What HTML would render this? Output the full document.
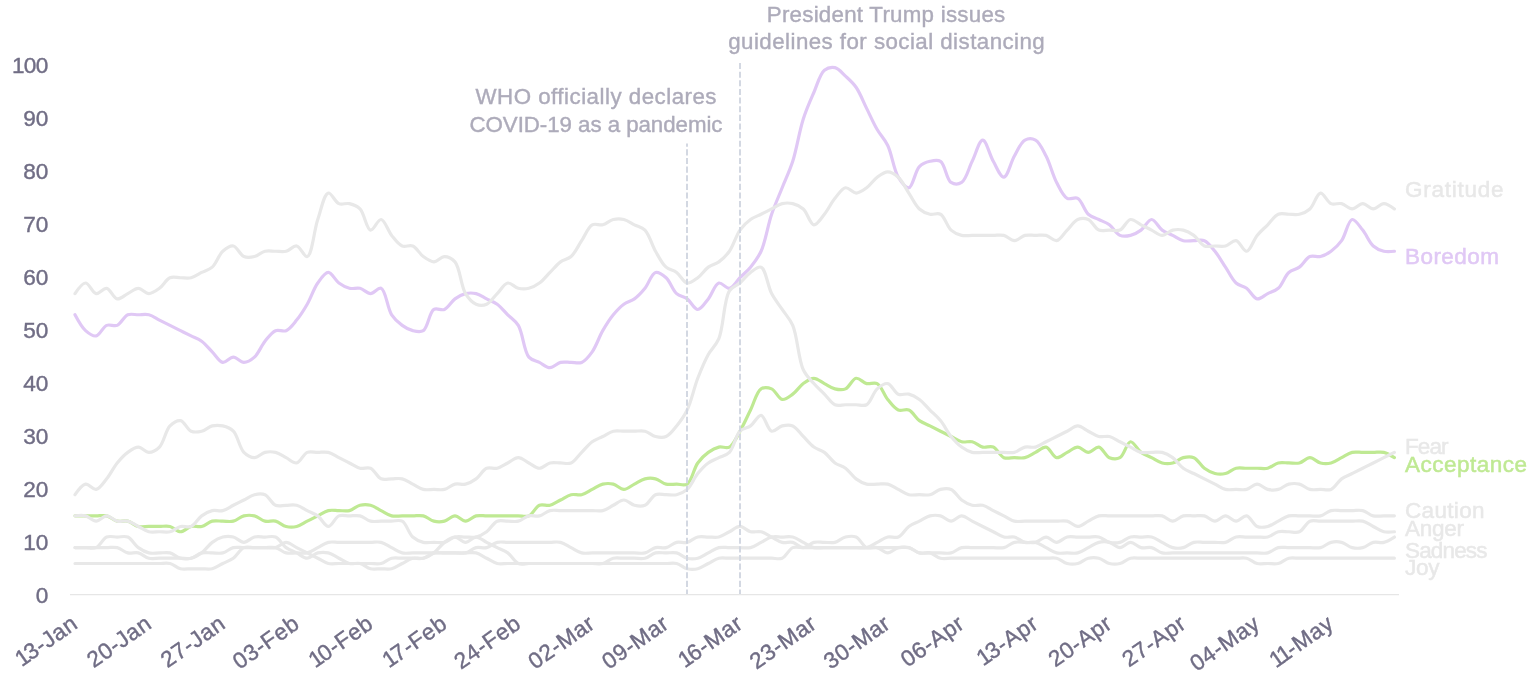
<!DOCTYPE html>
<html lang="en"><head><meta charset="utf-8"><title>Emotions chart</title>
<style>html,body{margin:0;padding:0;background:#fff}body{width:1536px;height:685px;overflow:hidden}svg{display:block;will-change:transform}text{font-family:"Liberation Sans",Arial,Helvetica,sans-serif}</style></head><body>
<svg width="1536" height="685" viewBox="0 0 1536 685">
<rect width="1536" height="685" fill="#ffffff"/>
<line x1="70" y1="594.6" x2="1399" y2="594.6" stroke="#e6e6e6" stroke-width="1.2"/>
<text x="48.3" y="603.3" text-anchor="end" font-size="22.6" fill="#706d85" stroke="#706d85" stroke-width="0.4" textLength="12.9" lengthAdjust="spacing">0</text>
<text x="48.3" y="550.3" text-anchor="end" font-size="22.6" fill="#706d85" stroke="#706d85" stroke-width="0.4" textLength="25.0" lengthAdjust="spacing">10</text>
<text x="48.3" y="497.3" text-anchor="end" font-size="22.6" fill="#706d85" stroke="#706d85" stroke-width="0.4" textLength="25.0" lengthAdjust="spacing">20</text>
<text x="48.3" y="444.3" text-anchor="end" font-size="22.6" fill="#706d85" stroke="#706d85" stroke-width="0.4" textLength="25.0" lengthAdjust="spacing">30</text>
<text x="48.3" y="391.3" text-anchor="end" font-size="22.6" fill="#706d85" stroke="#706d85" stroke-width="0.4" textLength="25.0" lengthAdjust="spacing">40</text>
<text x="48.3" y="338.3" text-anchor="end" font-size="22.6" fill="#706d85" stroke="#706d85" stroke-width="0.4" textLength="25.0" lengthAdjust="spacing">50</text>
<text x="48.3" y="285.3" text-anchor="end" font-size="22.6" fill="#706d85" stroke="#706d85" stroke-width="0.4" textLength="25.0" lengthAdjust="spacing">60</text>
<text x="48.3" y="232.3" text-anchor="end" font-size="22.6" fill="#706d85" stroke="#706d85" stroke-width="0.4" textLength="25.0" lengthAdjust="spacing">70</text>
<text x="48.3" y="179.3" text-anchor="end" font-size="22.6" fill="#706d85" stroke="#706d85" stroke-width="0.4" textLength="25.0" lengthAdjust="spacing">80</text>
<text x="48.3" y="126.3" text-anchor="end" font-size="22.6" fill="#706d85" stroke="#706d85" stroke-width="0.4" textLength="25.0" lengthAdjust="spacing">90</text>
<text x="48.3" y="73.3" text-anchor="end" font-size="22.6" fill="#706d85" stroke="#706d85" stroke-width="0.4" textLength="36.4" lengthAdjust="spacing">100</text>
<text transform="translate(79.3,626.8) rotate(-35)" text-anchor="end" font-size="22.6" fill="#706d85" stroke="#706d85" stroke-width="0.4" letter-spacing="0.6" dx="0 -2.4 0 0 0 0">13-Jan</text>
<text transform="translate(153.2,626.8) rotate(-35)" text-anchor="end" font-size="22.6" fill="#706d85" stroke="#706d85" stroke-width="0.4" letter-spacing="0.6" dx="0 0 0 0 0 0">20-Jan</text>
<text transform="translate(227.1,626.8) rotate(-35)" text-anchor="end" font-size="22.6" fill="#706d85" stroke="#706d85" stroke-width="0.4" letter-spacing="0.6" dx="0 0 0 0 0 0">27-Jan</text>
<text transform="translate(301.0,626.8) rotate(-35)" text-anchor="end" font-size="22.6" fill="#706d85" stroke="#706d85" stroke-width="0.4" letter-spacing="0.6" dx="0 0 0 0 0 0">03-Feb</text>
<text transform="translate(374.8,626.8) rotate(-35)" text-anchor="end" font-size="22.6" fill="#706d85" stroke="#706d85" stroke-width="0.4" letter-spacing="0.6" dx="0 -2.4 0 0 0 0">10-Feb</text>
<text transform="translate(448.7,626.8) rotate(-35)" text-anchor="end" font-size="22.6" fill="#706d85" stroke="#706d85" stroke-width="0.4" letter-spacing="0.6" dx="0 -2.4 0 0 0 0">17-Feb</text>
<text transform="translate(522.6,626.8) rotate(-35)" text-anchor="end" font-size="22.6" fill="#706d85" stroke="#706d85" stroke-width="0.4" letter-spacing="0.6" dx="0 0 0 0 0 0">24-Feb</text>
<text transform="translate(596.5,626.8) rotate(-35)" text-anchor="end" font-size="22.6" fill="#706d85" stroke="#706d85" stroke-width="0.4" letter-spacing="0.6" dx="0 0 0 0 0 0">02-Mar</text>
<text transform="translate(670.4,626.8) rotate(-35)" text-anchor="end" font-size="22.6" fill="#706d85" stroke="#706d85" stroke-width="0.4" letter-spacing="0.6" dx="0 0 0 0 0 0">09-Mar</text>
<text transform="translate(744.3,626.8) rotate(-35)" text-anchor="end" font-size="22.6" fill="#706d85" stroke="#706d85" stroke-width="0.4" letter-spacing="0.6" dx="0 -2.4 0 0 0 0">16-Mar</text>
<text transform="translate(818.1,626.8) rotate(-35)" text-anchor="end" font-size="22.6" fill="#706d85" stroke="#706d85" stroke-width="0.4" letter-spacing="0.6" dx="0 0 0 0 0 0">23-Mar</text>
<text transform="translate(892.0,626.8) rotate(-35)" text-anchor="end" font-size="22.6" fill="#706d85" stroke="#706d85" stroke-width="0.4" letter-spacing="0.6" dx="0 0 0 0 0 0">30-Mar</text>
<text transform="translate(965.9,626.8) rotate(-35)" text-anchor="end" font-size="22.6" fill="#706d85" stroke="#706d85" stroke-width="0.4" letter-spacing="0.6" dx="0 0 0 0 0 0">06-Apr</text>
<text transform="translate(1039.8,626.8) rotate(-35)" text-anchor="end" font-size="22.6" fill="#706d85" stroke="#706d85" stroke-width="0.4" letter-spacing="0.6" dx="0 -2.4 0 0 0 0">13-Apr</text>
<text transform="translate(1113.7,626.8) rotate(-35)" text-anchor="end" font-size="22.6" fill="#706d85" stroke="#706d85" stroke-width="0.4" letter-spacing="0.6" dx="0 0 0 0 0 0">20-Apr</text>
<text transform="translate(1187.6,626.8) rotate(-35)" text-anchor="end" font-size="22.6" fill="#706d85" stroke="#706d85" stroke-width="0.4" letter-spacing="0.6" dx="0 0 0 0 0 0">27-Apr</text>
<text transform="translate(1261.5,626.8) rotate(-35)" text-anchor="end" font-size="22.6" fill="#706d85" stroke="#706d85" stroke-width="0.4" letter-spacing="0.6" dx="0 0 0 0 0 0">04-May</text>
<text transform="translate(1335.3,626.8) rotate(-35)" text-anchor="end" font-size="22.6" fill="#706d85" stroke="#706d85" stroke-width="0.4" letter-spacing="0.6" dx="0 -2.4 -2.4 0 0 0">11-May</text>
<path d="M75.00,314.77C75.00,314.77 81.50,327.07 85.56,330.65C88.74,333.47 92.78,336.48 96.11,335.94C99.86,335.33 102.78,326.97 106.66,325.36C109.93,324.00 113.96,326.71 117.22,325.36C121.10,323.75 123.89,316.38 127.78,314.77C131.04,313.42 134.81,314.77 138.33,314.77C141.85,314.77 145.46,313.96 148.88,314.77C152.51,315.63 155.92,318.30 159.44,320.07C162.96,321.83 166.48,323.59 170.00,325.36C173.51,327.12 177.03,328.89 180.55,330.65C184.07,332.41 187.59,334.18 191.10,335.94C194.62,337.71 198.33,338.82 201.66,341.23C205.41,343.94 208.70,348.29 212.22,351.82C215.73,355.35 219.02,361.79 222.77,362.40C226.10,362.94 229.81,357.11 233.32,357.11C236.84,357.11 240.36,362.40 243.88,362.40C247.40,362.40 251.25,359.93 254.44,357.11C258.49,353.53 261.23,345.83 264.99,341.23C268.32,337.16 271.66,332.26 275.54,330.65C278.81,329.30 282.84,332.00 286.10,330.65C289.98,329.04 293.33,324.14 296.65,320.07C300.41,315.47 303.86,309.98 307.21,304.19C310.94,297.75 313.74,288.62 317.76,283.02C320.96,278.57 324.80,272.44 328.32,272.44C331.84,272.44 335.12,280.31 338.88,283.02C342.21,285.43 345.81,287.46 349.43,288.31C352.86,289.12 356.56,287.50 359.99,288.31C363.61,289.17 367.02,293.61 370.54,293.61C374.06,293.61 378.07,287.16 381.09,288.31C385.80,290.10 387.36,308.24 391.65,314.77C394.76,319.50 398.45,322.65 402.20,325.36C405.54,327.77 409.14,329.79 412.76,330.65C416.19,331.46 420.26,332.54 423.31,330.65C427.88,327.82 429.30,312.31 433.87,309.48C436.92,307.59 441.16,310.84 444.43,309.48C448.31,307.87 451.23,301.61 454.98,298.90C458.31,296.49 461.91,294.46 465.53,293.61C468.96,292.80 472.66,292.80 476.09,293.61C479.71,294.46 483.13,297.13 486.64,298.90C490.16,300.66 493.87,301.78 497.20,304.19C500.95,306.90 504.24,311.25 507.75,314.77C511.27,318.30 515.26,320.41 518.31,325.36C522.87,332.76 523.84,351.30 528.87,357.11C531.85,360.56 535.90,360.64 539.42,362.40C542.94,364.17 546.46,367.69 549.97,367.69C553.49,367.69 556.91,363.26 560.53,362.40C563.96,361.59 567.57,362.40 571.09,362.40C574.60,362.40 578.38,363.76 581.64,362.40C585.52,360.79 589.00,356.27 592.19,351.82C596.22,346.22 599.02,337.09 602.75,330.65C606.10,324.86 609.55,319.37 613.30,314.77C616.63,310.70 620.11,306.90 623.86,304.19C627.19,301.78 631.08,301.31 634.41,298.90C638.17,296.19 641.64,292.39 644.97,288.31C648.73,283.72 651.47,273.51 655.52,272.44C658.71,271.59 662.89,274.91 666.08,277.73C670.13,281.31 672.58,290.02 676.63,293.61C679.82,296.43 683.86,296.49 687.19,298.90C690.94,301.61 694.23,309.48 697.75,309.48C701.26,309.48 704.97,302.97 708.30,298.90C712.06,294.30 714.80,284.10 718.86,283.02C722.04,282.18 726.08,288.86 729.41,288.31C733.16,287.70 736.45,281.26 739.97,277.73C743.48,274.20 747.19,271.22 750.52,267.15C754.28,262.55 757.99,257.96 761.07,251.27C765.46,241.75 767.80,225.45 771.63,214.23C774.92,204.57 778.67,196.59 782.18,187.77C785.70,178.95 789.52,171.28 792.74,161.31C796.72,148.96 799.31,131.31 803.29,118.97C806.51,109.00 810.19,100.89 813.85,92.51C817.25,84.72 819.82,74.04 824.40,70.28C827.45,67.79 831.61,66.91 834.96,67.64C838.69,68.45 842.10,72.96 845.51,76.10C849.15,79.45 852.86,82.63 856.07,87.22C860.06,92.91 863.11,101.33 866.62,108.39C870.14,115.44 873.45,123.11 877.18,129.55C880.53,135.34 884.59,138.98 887.74,145.43C891.90,153.98 893.73,169.78 898.29,177.18C901.34,182.13 905.65,188.28 908.85,187.77C912.87,187.11 915.03,170.98 919.40,166.60C922.49,163.50 926.33,162.16 929.95,161.31C933.38,160.50 937.46,159.42 940.51,161.31C945.08,164.13 946.50,179.65 951.06,182.47C954.12,184.36 958.57,184.36 961.62,182.47C966.19,179.65 968.66,168.36 972.17,161.31C975.69,154.25 979.21,140.14 982.73,140.14C986.25,140.14 989.56,154.86 993.28,161.31C996.63,167.09 1000.49,177.39 1003.84,177.18C1007.57,176.95 1010.67,162.46 1014.39,156.01C1017.74,150.23 1020.74,142.40 1024.95,140.14C1028.08,138.46 1032.37,138.46 1035.51,140.14C1039.72,142.40 1042.83,149.86 1046.06,156.01C1050.01,163.54 1052.67,174.95 1056.62,182.47C1059.85,188.63 1062.96,196.09 1067.17,198.35C1070.30,200.03 1074.59,196.67 1077.72,198.35C1081.94,200.61 1084.23,210.64 1088.28,214.23C1091.47,217.05 1095.32,217.75 1098.84,219.52C1102.35,221.28 1106.06,222.40 1109.39,224.81C1113.14,227.52 1116.06,233.78 1119.94,235.39C1123.21,236.75 1127.07,236.20 1130.50,235.39C1134.12,234.54 1137.72,232.51 1141.06,230.10C1144.81,227.39 1148.09,219.52 1151.61,219.52C1155.13,219.52 1158.41,227.39 1162.16,230.10C1165.50,232.51 1169.20,233.63 1172.72,235.39C1176.24,237.16 1179.65,239.83 1183.27,240.69C1186.70,241.50 1190.31,240.69 1193.83,240.69C1197.35,240.69 1201.12,239.33 1204.38,240.69C1208.27,242.30 1211.61,247.20 1214.94,251.27C1218.70,255.87 1221.98,261.85 1225.49,267.15C1229.01,272.44 1232.00,279.44 1236.05,283.02C1239.24,285.84 1243.27,285.90 1246.61,288.31C1250.36,291.02 1253.41,298.29 1257.16,298.90C1260.49,299.44 1264.20,295.37 1267.71,293.61C1271.23,291.84 1275.08,291.14 1278.27,288.31C1282.32,284.73 1284.77,276.02 1288.83,272.44C1292.01,269.62 1296.05,269.56 1299.38,267.15C1303.13,264.44 1306.05,258.17 1309.93,256.56C1313.20,255.21 1317.06,257.37 1320.49,256.56C1324.11,255.70 1327.71,253.68 1331.05,251.27C1334.80,248.56 1338.40,245.14 1341.60,240.69C1345.62,235.09 1348.13,220.17 1352.15,219.52C1355.35,219.00 1359.38,226.03 1362.71,230.10C1366.47,234.70 1369.21,242.39 1373.26,245.98C1376.45,248.80 1380.20,250.41 1383.82,251.27C1387.25,252.08 1394.38,251.27 1394.38,251.27" fill="none" stroke="#e0c8f5" stroke-width="3.2" stroke-linecap="round" stroke-linejoin="round"/>
<path d="M75.00,515.87C75.00,515.87 82.04,515.87 85.56,515.87C89.07,515.87 92.59,515.87 96.11,515.87C99.63,515.87 103.24,515.06 106.66,515.87C110.29,516.73 113.60,520.30 117.22,521.16C120.65,521.97 124.35,520.35 127.78,521.16C131.40,522.02 134.71,525.60 138.33,526.45C141.76,527.26 145.37,526.45 148.88,526.45C152.40,526.45 155.92,526.45 159.44,526.45C162.96,526.45 166.57,525.64 170.00,526.45C173.62,527.31 177.03,531.75 180.55,531.75C184.07,531.75 187.48,527.31 191.10,526.45C194.53,525.64 198.23,527.26 201.66,526.45C205.28,525.60 208.59,522.02 212.22,521.16C215.64,520.35 219.25,521.16 222.77,521.16C226.29,521.16 229.90,521.97 233.32,521.16C236.95,520.30 240.26,516.73 243.88,515.87C247.31,515.06 251.01,515.06 254.44,515.87C258.06,516.73 261.37,520.30 264.99,521.16C268.42,521.97 272.12,520.35 275.54,521.16C279.17,522.02 282.48,525.60 286.10,526.45C289.53,527.26 293.23,527.26 296.65,526.45C300.28,525.60 303.69,522.93 307.21,521.16C310.73,519.40 314.25,517.63 317.76,515.87C321.28,514.11 324.70,511.44 328.32,510.58C331.75,509.77 335.36,510.58 338.88,510.58C342.39,510.58 346.00,511.39 349.43,510.58C353.05,509.72 356.36,506.14 359.99,505.29C363.41,504.48 367.11,504.48 370.54,505.29C374.16,506.14 377.58,508.81 381.09,510.58C384.61,512.34 388.03,515.01 391.65,515.87C395.08,516.68 398.69,515.87 402.20,515.87C405.72,515.87 409.24,515.87 412.76,515.87C416.28,515.87 419.89,515.06 423.31,515.87C426.94,516.73 430.25,520.30 433.87,521.16C437.30,521.97 441.00,521.97 444.43,521.16C448.05,520.30 451.46,515.87 454.98,515.87C458.50,515.87 462.02,521.16 465.53,521.16C469.05,521.16 472.47,516.73 476.09,515.87C479.52,515.06 483.13,515.87 486.64,515.87C490.16,515.87 493.68,515.87 497.20,515.87C500.72,515.87 504.24,515.87 507.75,515.87C511.27,515.87 514.79,515.87 518.31,515.87C521.83,515.87 525.60,517.22 528.87,515.87C532.75,514.26 535.54,506.90 539.42,505.29C542.68,503.93 546.55,506.10 549.97,505.29C553.60,504.43 557.01,501.76 560.53,499.99C564.05,498.23 567.46,495.56 571.09,494.70C574.51,493.89 578.21,495.51 581.64,494.70C585.26,493.84 588.68,491.17 592.19,489.41C595.71,487.65 599.13,484.98 602.75,484.12C606.18,483.31 609.88,483.31 613.30,484.12C616.93,484.98 620.34,489.41 623.86,489.41C627.38,489.41 630.90,485.88 634.41,484.12C637.93,482.35 641.35,479.68 644.97,478.83C648.40,478.02 652.10,478.02 655.52,478.83C659.15,479.68 662.46,483.26 666.08,484.12C669.51,484.93 673.12,484.12 676.63,484.12C680.15,484.12 684.14,486.01 687.19,484.12C691.76,481.29 693.72,468.55 697.75,462.95C700.94,458.50 704.55,455.08 708.30,452.37C711.63,449.96 715.23,447.93 718.86,447.07C722.28,446.26 726.28,448.75 729.41,447.07C733.62,444.82 736.62,436.98 739.97,431.20C743.69,424.75 747.00,417.09 750.52,410.03C754.04,402.97 756.51,391.69 761.07,388.86C764.13,386.97 768.37,387.51 771.63,388.86C775.51,390.47 778.43,398.84 782.18,399.45C785.52,399.99 789.41,396.56 792.74,394.15C796.49,391.44 799.54,386.28 803.29,383.57C806.63,381.16 810.33,378.28 813.85,378.28C817.37,378.28 820.89,381.81 824.40,383.57C827.92,385.33 831.34,388.00 834.96,388.86C838.39,389.67 842.25,390.22 845.51,388.86C849.40,387.25 852.32,378.89 856.07,378.28C859.40,377.74 863.00,382.71 866.62,383.57C870.05,384.38 874.05,381.89 877.18,383.57C881.39,385.83 883.98,394.85 887.74,399.45C891.06,403.52 894.41,408.42 898.29,410.03C901.55,411.38 905.58,408.68 908.85,410.03C912.73,411.64 915.65,417.90 919.40,420.61C922.73,423.02 926.44,424.14 929.95,425.91C933.47,427.67 936.99,429.43 940.51,431.20C944.03,432.96 947.55,434.73 951.06,436.49C954.58,438.25 958.00,440.92 961.62,441.78C965.05,442.59 968.75,440.97 972.17,441.78C975.80,442.64 979.11,446.22 982.73,447.07C986.16,447.88 990.02,445.72 993.28,447.07C997.17,448.68 999.96,456.05 1003.84,457.66C1007.10,459.01 1010.88,457.66 1014.39,457.66C1017.91,457.66 1021.52,458.47 1024.95,457.66C1028.57,456.80 1031.99,454.13 1035.51,452.37C1039.02,450.60 1042.73,446.53 1046.06,447.07C1049.81,447.68 1052.86,457.05 1056.62,457.66C1059.95,458.20 1063.65,454.13 1067.17,452.37C1070.69,450.60 1074.21,447.07 1077.72,447.07C1081.24,447.07 1084.76,452.37 1088.28,452.37C1091.80,452.37 1095.50,446.53 1098.84,447.07C1102.59,447.68 1105.51,456.05 1109.39,457.66C1112.65,459.01 1116.81,459.34 1119.94,457.66C1124.16,455.40 1126.74,442.15 1130.50,441.78C1133.83,441.45 1137.30,449.66 1141.06,452.37C1144.39,454.78 1148.09,455.89 1151.61,457.66C1155.13,459.42 1158.54,462.09 1162.16,462.95C1165.59,463.76 1169.29,463.76 1172.72,462.95C1176.34,462.09 1179.65,458.52 1183.27,457.66C1186.70,456.85 1190.57,456.30 1193.83,457.66C1197.71,459.27 1200.63,465.53 1204.38,468.24C1207.72,470.65 1211.32,472.68 1214.94,473.53C1218.37,474.34 1222.07,474.34 1225.49,473.53C1229.12,472.68 1232.43,469.10 1236.05,468.24C1239.48,467.43 1243.09,468.24 1246.61,468.24C1250.12,468.24 1253.64,468.24 1257.16,468.24C1260.68,468.24 1264.29,469.05 1267.71,468.24C1271.34,467.38 1274.65,463.81 1278.27,462.95C1281.70,462.14 1285.31,462.95 1288.83,462.95C1292.34,462.95 1295.95,463.76 1299.38,462.95C1303.00,462.09 1306.42,457.66 1309.93,457.66C1313.45,457.66 1316.87,462.09 1320.49,462.95C1323.92,463.76 1327.62,463.76 1331.05,462.95C1334.67,462.09 1338.08,459.42 1341.60,457.66C1345.12,455.89 1348.53,453.22 1352.15,452.37C1355.58,451.56 1359.19,452.37 1362.71,452.37C1366.23,452.37 1369.75,452.37 1373.26,452.37C1376.78,452.37 1380.39,451.56 1383.82,452.37C1387.44,453.22 1394.38,457.66 1394.38,457.66" fill="none" stroke="#bfe993" stroke-width="3.2" stroke-linecap="round" stroke-linejoin="round"/>
<path d="M75.00,293.61C75.00,293.61 82.04,283.02 85.56,283.02C89.07,283.02 92.36,293.00 96.11,293.61C99.44,294.15 103.33,287.77 106.66,288.31C110.42,288.92 113.47,298.29 117.22,298.90C120.55,299.44 124.26,295.37 127.78,293.61C131.29,291.84 134.81,288.31 138.33,288.31C141.85,288.31 145.37,293.61 148.88,293.61C152.40,293.61 156.11,290.72 159.44,288.31C163.19,285.60 166.11,279.34 170.00,277.73C173.26,276.38 177.03,277.73 180.55,277.73C184.07,277.73 187.68,278.54 191.10,277.73C194.73,276.87 198.14,274.20 201.66,272.44C205.18,270.67 209.03,269.97 212.22,267.15C216.27,263.56 218.72,254.85 222.77,251.27C225.96,248.45 229.99,245.44 233.32,245.98C237.08,246.59 240.00,254.95 243.88,256.56C247.14,257.92 251.01,257.37 254.44,256.56C258.06,255.70 261.37,252.13 264.99,251.27C268.42,250.46 272.03,251.27 275.54,251.27C279.06,251.27 282.67,252.08 286.10,251.27C289.72,250.41 293.32,245.44 296.65,245.98C300.41,246.59 304.20,257.34 307.21,256.56C312.04,255.31 313.94,230.74 317.76,219.52C321.06,209.87 324.03,193.94 328.32,193.06C331.43,192.42 334.99,202.03 338.88,203.64C342.14,205.00 346.00,202.83 349.43,203.64C353.05,204.50 356.89,205.84 359.99,208.93C364.36,213.32 366.52,229.45 370.54,230.10C373.74,230.62 377.77,219.19 381.09,219.52C384.85,219.89 387.89,230.80 391.65,235.39C394.98,239.47 398.32,244.37 402.20,245.98C405.47,247.33 409.50,244.62 412.76,245.98C416.64,247.59 419.56,253.85 423.31,256.56C426.65,258.97 430.35,261.85 433.87,261.85C437.39,261.85 440.91,256.56 444.43,256.56C447.94,256.56 451.99,258.40 454.98,261.85C460.01,267.66 460.97,286.20 465.53,293.61C468.59,298.55 472.21,302.58 476.09,304.19C479.35,305.54 483.38,305.54 486.64,304.19C490.53,302.58 493.68,297.13 497.20,293.61C500.72,290.08 504.00,283.63 507.75,283.02C511.09,282.48 514.69,287.46 518.31,288.31C521.74,289.12 525.44,289.12 528.87,288.31C532.49,287.46 536.09,285.43 539.42,283.02C543.17,280.31 546.46,275.97 549.97,272.44C553.49,268.91 556.78,264.56 560.53,261.85C563.86,259.44 567.90,259.38 571.09,256.56C575.14,252.98 578.12,245.98 581.64,240.69C585.16,235.39 587.98,227.07 592.19,224.81C595.33,223.13 599.32,225.62 602.75,224.81C606.37,223.95 609.68,220.38 613.30,219.52C616.73,218.71 620.43,218.71 623.86,219.52C627.48,220.38 630.90,223.05 634.41,224.81C637.93,226.57 641.88,227.00 644.97,230.10C649.34,234.49 651.80,244.83 655.52,251.27C658.87,257.06 662.03,263.56 666.08,267.15C669.27,269.97 673.30,270.03 676.63,272.44C680.39,275.15 683.44,282.41 687.19,283.02C690.52,283.56 694.41,280.14 697.75,277.73C701.50,275.02 704.55,269.86 708.30,267.15C711.63,264.74 715.52,264.26 718.86,261.85C722.61,259.14 726.21,255.72 729.41,251.27C733.43,245.67 735.94,235.70 739.97,230.10C743.16,225.65 746.77,222.23 750.52,219.52C753.85,217.11 757.56,215.99 761.07,214.23C764.59,212.46 768.11,210.70 771.63,208.93C775.15,207.17 778.56,204.50 782.18,203.64C785.61,202.83 789.31,202.83 792.74,203.64C796.36,204.50 800.11,206.11 803.29,208.93C807.35,212.52 810.09,224.44 813.85,224.81C817.18,225.14 821.08,218.30 824.40,214.23C828.16,209.63 831.20,202.95 834.96,198.35C838.29,194.28 841.76,188.38 845.51,187.77C848.85,187.22 852.55,193.06 856.07,193.06C859.59,193.06 863.29,190.18 866.62,187.77C870.38,185.06 873.43,179.89 877.18,177.18C880.51,174.77 884.22,171.89 887.74,171.89C891.25,171.89 895.10,174.36 898.29,177.18C902.34,180.77 905.33,187.77 908.85,193.06C912.36,198.35 915.35,205.35 919.40,208.93C922.59,211.76 926.33,213.37 929.95,214.23C933.38,215.04 937.38,212.55 940.51,214.23C944.72,216.48 947.01,226.52 951.06,230.10C954.25,232.92 958.00,234.54 961.62,235.39C965.05,236.20 968.66,235.39 972.17,235.39C975.69,235.39 979.21,235.39 982.73,235.39C986.25,235.39 989.77,235.39 993.28,235.39C996.80,235.39 1000.41,234.58 1003.84,235.39C1007.46,236.25 1010.88,240.69 1014.39,240.69C1017.91,240.69 1021.33,236.25 1024.95,235.39C1028.38,234.58 1031.99,235.39 1035.51,235.39C1039.02,235.39 1042.63,234.58 1046.06,235.39C1049.68,236.25 1053.28,241.23 1056.62,240.69C1060.37,240.08 1063.65,233.63 1067.17,230.10C1070.69,226.57 1073.84,221.13 1077.72,219.52C1080.99,218.16 1085.02,218.16 1088.28,219.52C1092.16,221.13 1094.95,228.49 1098.84,230.10C1102.10,231.46 1105.87,230.10 1109.39,230.10C1112.91,230.10 1116.68,231.46 1119.94,230.10C1123.83,228.49 1126.75,220.13 1130.50,219.52C1133.83,218.98 1137.54,223.05 1141.06,224.81C1144.57,226.57 1148.09,228.34 1151.61,230.10C1155.13,231.87 1158.65,235.39 1162.16,235.39C1165.68,235.39 1169.10,230.96 1172.72,230.10C1176.15,229.29 1179.85,229.29 1183.27,230.10C1186.90,230.96 1190.50,232.98 1193.83,235.39C1197.58,238.10 1200.50,244.37 1204.38,245.98C1207.65,247.33 1211.42,245.98 1214.94,245.98C1218.46,245.98 1222.07,246.79 1225.49,245.98C1229.12,245.12 1232.72,240.14 1236.05,240.69C1239.80,241.30 1243.28,251.60 1246.61,251.27C1250.36,250.90 1253.40,239.99 1257.16,235.39C1260.49,231.32 1264.20,228.34 1267.71,224.81C1271.23,221.28 1274.39,215.84 1278.27,214.23C1281.53,212.87 1285.31,214.23 1288.83,214.23C1292.34,214.23 1295.95,215.04 1299.38,214.23C1303.00,213.37 1306.75,211.76 1309.93,208.93C1313.99,205.35 1316.73,193.43 1320.49,193.06C1323.82,192.73 1327.16,202.03 1331.05,203.64C1334.31,205.00 1338.17,202.83 1341.60,203.64C1345.22,204.50 1348.64,208.93 1352.15,208.93C1355.67,208.93 1359.19,203.64 1362.71,203.64C1366.23,203.64 1369.75,208.93 1373.26,208.93C1376.78,208.93 1380.30,203.64 1383.82,203.64C1387.34,203.64 1394.38,208.93 1394.38,208.93" fill="none" stroke="#e8e8e8" stroke-width="3.2" stroke-linecap="round" stroke-linejoin="round"/>
<path d="M75.00,494.70C75.00,494.70 81.80,484.73 85.56,484.12C88.89,483.58 92.78,489.95 96.11,489.41C99.86,488.80 103.34,482.90 106.66,478.83C110.42,474.23 113.46,467.55 117.22,462.95C120.55,458.88 124.02,455.08 127.78,452.37C131.11,449.96 134.81,447.07 138.33,447.07C141.85,447.07 145.37,452.37 148.88,452.37C152.40,452.37 156.35,450.17 159.44,447.07C163.81,442.69 165.62,430.29 170.00,425.91C173.09,422.81 177.22,420.07 180.55,420.61C184.30,421.22 187.22,429.59 191.10,431.20C194.37,432.55 198.23,432.01 201.66,431.20C205.28,430.34 208.59,426.76 212.22,425.91C215.64,425.10 219.34,425.10 222.77,425.91C226.39,426.76 230.23,428.10 233.32,431.20C237.70,435.58 239.51,447.98 243.88,452.37C246.97,455.46 250.92,457.66 254.44,457.66C257.95,457.66 261.37,453.22 264.99,452.37C268.42,451.56 272.12,451.56 275.54,452.37C279.17,453.22 282.58,455.89 286.10,457.66C289.62,459.42 293.32,463.49 296.65,462.95C300.41,462.34 303.33,453.98 307.21,452.37C310.47,451.01 314.25,452.37 317.76,452.37C321.28,452.37 324.89,451.56 328.32,452.37C331.94,453.22 335.36,455.89 338.88,457.66C342.39,459.42 345.91,461.19 349.43,462.95C352.95,464.71 356.36,467.38 359.99,468.24C363.41,469.05 367.28,466.89 370.54,468.24C374.42,469.85 377.21,477.22 381.09,478.83C384.36,480.18 388.13,478.83 391.65,478.83C395.17,478.83 398.78,478.02 402.20,478.83C405.83,479.68 409.24,482.35 412.76,484.12C416.28,485.88 419.69,488.55 423.31,489.41C426.74,490.22 430.35,489.41 433.87,489.41C437.39,489.41 441.00,490.22 444.43,489.41C448.05,488.55 451.36,484.98 454.98,484.12C458.41,483.31 462.11,484.93 465.53,484.12C469.16,483.26 472.76,481.24 476.09,478.83C479.84,476.12 482.76,469.85 486.64,468.24C489.91,466.89 493.77,469.05 497.20,468.24C500.82,467.38 504.24,464.71 507.75,462.95C511.27,461.19 514.79,457.66 518.31,457.66C521.83,457.66 525.35,461.19 528.87,462.95C532.38,464.71 535.90,468.24 539.42,468.24C542.94,468.24 546.35,463.81 549.97,462.95C553.40,462.14 557.01,462.95 560.53,462.95C564.05,462.95 567.82,464.30 571.09,462.95C574.97,461.34 578.12,455.89 581.64,452.37C585.16,448.84 588.44,444.49 592.19,441.78C595.53,439.37 599.23,438.25 602.75,436.49C606.27,434.73 609.68,432.06 613.30,431.20C616.73,430.39 620.34,431.20 623.86,431.20C627.38,431.20 630.90,431.20 634.41,431.20C637.93,431.20 641.54,430.39 644.97,431.20C648.59,432.06 651.90,435.63 655.52,436.49C658.95,437.30 662.82,437.84 666.08,436.49C669.96,434.88 673.31,429.98 676.63,425.91C680.39,421.31 684.04,416.48 687.19,410.03C691.36,401.48 693.98,388.02 697.75,378.28C701.07,369.68 704.46,361.46 708.30,354.46C711.58,348.48 715.84,345.66 718.86,338.59C723.67,327.27 723.76,299.74 729.41,290.96C732.35,286.39 736.55,285.99 739.97,283.02C743.60,279.86 746.77,275.15 750.52,272.44C753.85,270.03 758.05,266.00 761.07,267.15C765.78,268.93 767.68,286.08 771.63,293.61C774.86,299.76 778.67,304.19 782.18,309.48C785.70,314.77 789.71,318.39 792.74,325.36C797.43,336.15 798.42,359.56 803.29,369.81C806.30,376.13 810.19,379.39 813.85,383.57C817.25,387.45 820.89,390.63 824.40,394.15C827.92,397.68 831.08,403.13 834.96,404.74C838.22,406.09 842.00,404.74 845.51,404.74C849.03,404.74 852.55,404.74 856.07,404.74C859.59,404.74 863.49,406.42 866.62,404.74C870.84,402.48 873.13,392.45 877.18,388.86C880.37,386.04 884.40,383.03 887.74,383.57C891.49,384.18 894.41,392.54 898.29,394.15C901.55,395.51 905.42,393.34 908.85,394.15C912.47,395.01 916.07,397.04 919.40,399.45C923.15,402.16 926.44,406.50 929.95,410.03C933.47,413.56 937.18,416.54 940.51,420.61C944.27,425.21 947.31,431.89 951.06,436.49C954.39,440.56 957.87,444.36 961.62,447.07C964.95,449.48 968.55,451.51 972.17,452.37C975.60,453.18 979.21,452.37 982.73,452.37C986.25,452.37 989.77,452.37 993.28,452.37C996.80,452.37 1000.32,452.37 1003.84,452.37C1007.36,452.37 1010.97,453.18 1014.39,452.37C1018.02,451.51 1021.33,447.93 1024.95,447.07C1028.38,446.26 1032.08,447.88 1035.51,447.07C1039.13,446.22 1042.54,443.55 1046.06,441.78C1049.58,440.02 1053.10,438.25 1056.62,436.49C1060.13,434.73 1063.65,432.96 1067.17,431.20C1070.69,429.43 1074.21,425.91 1077.72,425.91C1081.24,425.91 1084.76,429.43 1088.28,431.20C1091.80,432.96 1095.21,435.63 1098.84,436.49C1102.26,437.30 1105.96,435.68 1109.39,436.49C1113.01,437.35 1116.43,440.02 1119.94,441.78C1123.46,443.55 1126.98,445.31 1130.50,447.07C1134.02,448.84 1137.43,451.51 1141.06,452.37C1144.48,453.18 1148.09,452.37 1151.61,452.37C1155.13,452.37 1158.74,451.56 1162.16,452.37C1165.79,453.22 1169.39,455.25 1172.72,457.66C1176.47,460.37 1179.52,465.53 1183.27,468.24C1186.61,470.65 1190.31,471.77 1193.83,473.53C1197.35,475.30 1200.87,477.06 1204.38,478.83C1207.90,480.59 1211.42,482.35 1214.94,484.12C1218.46,485.88 1221.87,488.55 1225.49,489.41C1228.92,490.22 1232.53,489.41 1236.05,489.41C1239.57,489.41 1243.18,490.22 1246.61,489.41C1250.23,488.55 1253.64,484.12 1257.16,484.12C1260.68,484.12 1264.09,488.55 1267.71,489.41C1271.14,490.22 1274.84,490.22 1278.27,489.41C1281.89,488.55 1285.20,484.98 1288.83,484.12C1292.25,483.31 1295.95,483.31 1299.38,484.12C1303.00,484.98 1306.31,488.55 1309.93,489.41C1313.36,490.22 1316.97,489.41 1320.49,489.41C1324.01,489.41 1327.78,490.76 1331.05,489.41C1334.93,487.80 1337.85,481.54 1341.60,478.83C1344.93,476.42 1348.64,475.30 1352.15,473.53C1355.67,471.77 1359.19,470.01 1362.71,468.24C1366.23,466.48 1369.75,464.71 1373.26,462.95C1376.78,461.19 1380.30,459.42 1383.82,457.66C1387.34,455.89 1394.38,452.37 1394.38,452.37" fill="none" stroke="#e8e8e8" stroke-width="3.2" stroke-linecap="round" stroke-linejoin="round"/>
<path d="M75.00,515.87C75.00,515.87 82.13,515.06 85.56,515.87C89.18,516.73 92.59,521.16 96.11,521.16C99.63,521.16 103.15,515.87 106.66,515.87C110.18,515.87 113.60,520.30 117.22,521.16C120.65,521.97 124.35,520.35 127.78,521.16C131.40,522.02 134.81,524.69 138.33,526.45C141.85,528.22 145.26,530.89 148.88,531.75C152.31,532.56 155.92,531.75 159.44,531.75C162.96,531.75 166.57,532.56 170.00,531.75C173.62,530.89 176.93,527.31 180.55,526.45C183.98,525.64 187.84,527.81 191.10,526.45C194.99,524.84 197.91,518.58 201.66,515.87C204.99,513.46 208.59,511.44 212.22,510.58C215.64,509.77 219.34,511.39 222.77,510.58C226.39,509.72 229.81,507.05 233.32,505.29C236.84,503.52 240.36,501.76 243.88,499.99C247.40,498.23 250.81,495.56 254.44,494.70C257.86,493.89 261.73,493.35 264.99,494.70C268.87,496.31 271.66,503.68 275.54,505.29C278.81,506.64 282.58,505.29 286.10,505.29C289.62,505.29 293.23,504.48 296.65,505.29C300.28,506.14 303.69,508.81 307.21,510.58C310.73,512.34 314.43,513.46 317.76,515.87C321.52,518.58 324.80,526.45 328.32,526.45C331.84,526.45 334.99,517.48 338.88,515.87C342.14,514.52 345.91,515.87 349.43,515.87C352.95,515.87 356.56,515.06 359.99,515.87C363.61,516.73 366.92,520.30 370.54,521.16C373.97,521.97 377.58,521.16 381.09,521.16C384.61,521.16 388.13,521.16 391.65,521.16C395.17,521.16 399.07,519.48 402.20,521.16C406.42,523.42 408.71,533.45 412.76,537.04C415.95,539.86 419.69,541.47 423.31,542.33C426.74,543.14 430.35,542.33 433.87,542.33C437.39,542.33 441.00,543.14 444.43,542.33C448.05,541.47 451.36,537.90 454.98,537.04C458.41,536.23 462.02,537.04 465.53,537.04C469.05,537.04 472.66,537.85 476.09,537.04C479.71,536.18 483.31,534.16 486.64,531.75C490.40,529.04 493.32,522.77 497.20,521.16C500.46,519.81 504.24,521.16 507.75,521.16C511.27,521.16 514.88,521.97 518.31,521.16C521.93,520.30 525.24,516.73 528.87,515.87C532.29,515.06 535.99,516.68 539.42,515.87C543.04,515.01 546.35,511.44 549.97,510.58C553.40,509.77 557.01,510.58 560.53,510.58C564.05,510.58 567.57,510.58 571.09,510.58C574.60,510.58 578.12,510.58 581.64,510.58C585.16,510.58 588.68,510.58 592.19,510.58C595.71,510.58 599.32,511.39 602.75,510.58C606.37,509.72 609.79,507.05 613.30,505.29C616.82,503.52 620.34,499.99 623.86,499.99C627.38,499.99 630.79,504.43 634.41,505.29C637.84,506.10 641.71,506.64 644.97,505.29C648.85,503.68 651.64,496.31 655.52,494.70C658.79,493.35 662.56,494.70 666.08,494.70C669.60,494.70 673.21,495.51 676.63,494.70C680.26,493.84 684.00,492.23 687.19,489.41C691.24,485.83 693.99,478.13 697.75,473.53C701.07,469.46 704.55,465.66 708.30,462.95C711.63,460.54 715.34,459.42 718.86,457.66C722.37,455.89 726.32,455.46 729.41,452.37C733.78,447.98 735.59,435.58 739.97,431.20C743.06,428.10 747.19,428.32 750.52,425.91C754.27,423.20 757.75,414.99 761.07,415.32C764.83,415.69 767.58,430.12 771.63,431.20C774.82,432.04 778.56,426.76 782.18,425.91C785.61,425.10 789.48,424.55 792.74,425.91C796.62,427.52 799.78,432.96 803.29,436.49C806.81,440.02 810.10,444.36 813.85,447.07C817.18,449.48 821.07,449.96 824.40,452.37C828.16,455.08 831.21,460.24 834.96,462.95C838.29,465.36 842.18,465.83 845.51,468.24C849.27,470.95 852.32,476.12 856.07,478.83C859.40,481.24 863.00,483.26 866.62,484.12C870.05,484.93 873.66,484.12 877.18,484.12C880.70,484.12 884.31,483.31 887.74,484.12C891.36,484.98 894.77,487.65 898.29,489.41C901.81,491.17 905.22,493.84 908.85,494.70C912.27,495.51 915.88,494.70 919.40,494.70C922.92,494.70 926.53,495.51 929.95,494.70C933.58,493.84 936.89,490.27 940.51,489.41C943.94,488.60 947.80,488.06 951.06,489.41C954.95,491.02 957.87,497.28 961.62,499.99C964.95,502.40 968.55,504.43 972.17,505.29C975.60,506.10 979.30,504.48 982.73,505.29C986.35,506.14 989.77,508.81 993.28,510.58C996.80,512.34 1000.32,514.11 1003.84,515.87C1007.36,517.63 1010.77,520.30 1014.39,521.16C1017.82,521.97 1021.43,521.16 1024.95,521.16C1028.47,521.16 1031.99,521.16 1035.51,521.16C1039.02,521.16 1042.54,521.16 1046.06,521.16C1049.58,521.16 1053.10,521.16 1056.62,521.16C1060.13,521.16 1063.74,520.35 1067.17,521.16C1070.79,522.02 1074.21,526.45 1077.72,526.45C1081.24,526.45 1084.76,522.93 1088.28,521.16C1091.80,519.40 1095.21,516.73 1098.84,515.87C1102.26,515.06 1105.87,515.87 1109.39,515.87C1112.91,515.87 1116.43,515.87 1119.94,515.87C1123.46,515.87 1126.98,515.87 1130.50,515.87C1134.02,515.87 1137.54,515.87 1141.06,515.87C1144.57,515.87 1148.09,515.87 1151.61,515.87C1155.13,515.87 1158.74,515.06 1162.16,515.87C1165.79,516.73 1169.20,521.16 1172.72,521.16C1176.24,521.16 1179.65,516.73 1183.27,515.87C1186.70,515.06 1190.31,515.87 1193.83,515.87C1197.35,515.87 1200.96,515.06 1204.38,515.87C1208.01,516.73 1211.42,521.16 1214.94,521.16C1218.46,521.16 1221.98,515.87 1225.49,515.87C1229.01,515.87 1232.53,521.16 1236.05,521.16C1239.57,521.16 1243.27,515.33 1246.61,515.87C1250.36,516.48 1253.28,524.84 1257.16,526.45C1260.42,527.81 1264.29,527.26 1267.71,526.45C1271.34,525.60 1274.75,522.93 1278.27,521.16C1281.79,519.40 1285.20,516.73 1288.83,515.87C1292.25,515.06 1295.86,515.87 1299.38,515.87C1302.90,515.87 1306.42,515.87 1309.93,515.87C1313.45,515.87 1317.06,516.68 1320.49,515.87C1324.11,515.01 1327.42,511.44 1331.05,510.58C1334.47,509.77 1338.08,510.58 1341.60,510.58C1345.12,510.58 1348.64,510.58 1352.15,510.58C1355.67,510.58 1359.28,509.77 1362.71,510.58C1366.33,511.44 1369.64,515.01 1373.26,515.87C1376.69,516.68 1380.30,515.87 1383.82,515.87C1387.34,515.87 1394.38,515.87 1394.38,515.87" fill="none" stroke="#e8e8e8" stroke-width="3.2" stroke-linecap="round" stroke-linejoin="round"/>
<path d="M75.00,547.62C75.00,547.62 82.04,547.62 85.56,547.62C89.07,547.62 92.59,547.62 96.11,547.62C99.63,547.62 103.15,547.62 106.66,547.62C110.18,547.62 113.79,546.81 117.22,547.62C120.84,548.48 124.15,552.06 127.78,552.91C131.20,553.72 134.90,552.10 138.33,552.91C141.95,553.77 145.26,557.35 148.88,558.21C152.31,559.02 155.92,558.21 159.44,558.21C162.96,558.21 166.48,558.21 170.00,558.21C173.51,558.21 177.03,558.21 180.55,558.21C184.07,558.21 187.68,559.02 191.10,558.21C194.73,557.35 198.04,553.77 201.66,552.91C205.09,552.10 208.70,552.91 212.22,552.91C215.73,552.91 219.34,553.72 222.77,552.91C226.39,552.06 229.70,548.48 233.32,547.62C236.75,546.81 240.36,547.62 243.88,547.62C247.40,547.62 250.92,547.62 254.44,547.62C257.95,547.62 261.47,547.62 264.99,547.62C268.51,547.62 272.12,546.81 275.54,547.62C279.17,548.48 282.48,552.06 286.10,552.91C289.53,553.72 293.14,552.91 296.65,552.91C300.17,552.91 303.78,553.72 307.21,552.91C310.83,552.06 314.25,549.39 317.76,547.62C321.28,545.86 324.70,543.19 328.32,542.33C331.75,541.52 335.36,542.33 338.88,542.33C342.39,542.33 345.91,542.33 349.43,542.33C352.95,542.33 356.47,542.33 359.99,542.33C363.50,542.33 367.02,542.33 370.54,542.33C374.06,542.33 377.67,541.52 381.09,542.33C384.72,543.19 388.13,545.86 391.65,547.62C395.17,549.39 398.58,552.06 402.20,552.91C405.63,553.72 409.24,552.91 412.76,552.91C416.28,552.91 419.80,552.91 423.31,552.91C426.83,552.91 430.35,552.91 433.87,552.91C437.39,552.91 440.91,552.91 444.43,552.91C447.94,552.91 451.46,552.91 454.98,552.91C458.50,552.91 462.02,552.91 465.53,552.91C469.05,552.91 472.66,552.10 476.09,552.91C479.71,553.77 483.13,556.44 486.64,558.21C490.16,559.97 493.58,562.64 497.20,563.50C500.63,564.31 504.24,563.50 507.75,563.50C511.27,563.50 514.79,563.50 518.31,563.50C521.83,563.50 525.35,563.50 528.87,563.50C532.38,563.50 535.90,563.50 539.42,563.50C542.94,563.50 546.46,563.50 549.97,563.50C553.49,563.50 557.01,563.50 560.53,563.50C564.05,563.50 567.57,563.50 571.09,563.50C574.60,563.50 578.12,563.50 581.64,563.50C585.16,563.50 588.68,563.50 592.19,563.50C595.71,563.50 599.32,564.31 602.75,563.50C606.37,562.64 609.68,559.06 613.30,558.21C616.73,557.40 620.34,558.21 623.86,558.21C627.38,558.21 630.90,558.21 634.41,558.21C637.93,558.21 641.54,559.02 644.97,558.21C648.59,557.35 651.90,553.77 655.52,552.91C658.95,552.10 662.56,552.91 666.08,552.91C669.60,552.91 673.21,552.10 676.63,552.91C680.26,553.77 683.57,557.35 687.19,558.21C690.62,559.02 694.32,559.02 697.75,558.21C701.37,557.35 704.78,554.68 708.30,552.91C711.82,551.15 715.23,548.48 718.86,547.62C722.28,546.81 725.89,547.62 729.41,547.62C732.93,547.62 736.45,547.62 739.97,547.62C743.48,547.62 747.09,548.43 750.52,547.62C754.14,546.76 757.56,544.09 761.07,542.33C764.59,540.57 768.01,537.90 771.63,537.04C775.06,536.23 778.67,537.04 782.18,537.04C785.70,537.04 789.31,536.23 792.74,537.04C796.36,537.90 799.78,540.57 803.29,542.33C806.81,544.09 810.23,546.76 813.85,547.62C817.28,548.43 820.89,547.62 824.40,547.62C827.92,547.62 831.44,547.62 834.96,547.62C838.48,547.62 842.00,547.62 845.51,547.62C849.03,547.62 852.55,547.62 856.07,547.62C859.59,547.62 863.11,547.62 866.62,547.62C870.14,547.62 873.66,547.62 877.18,547.62C880.70,547.62 884.22,547.62 887.74,547.62C891.25,547.62 894.77,547.62 898.29,547.62C901.81,547.62 905.42,546.81 908.85,547.62C912.47,548.48 915.78,552.06 919.40,552.91C922.83,553.72 926.44,552.91 929.95,552.91C933.47,552.91 936.99,552.91 940.51,552.91C944.03,552.91 947.64,553.72 951.06,552.91C954.69,552.06 958.00,548.48 961.62,547.62C965.05,546.81 968.66,547.62 972.17,547.62C975.69,547.62 979.21,547.62 982.73,547.62C986.25,547.62 989.77,547.62 993.28,547.62C996.80,547.62 1000.41,548.43 1003.84,547.62C1007.46,546.76 1010.77,543.19 1014.39,542.33C1017.82,541.52 1021.43,542.33 1024.95,542.33C1028.47,542.33 1032.08,543.14 1035.51,542.33C1039.13,541.47 1042.54,537.04 1046.06,537.04C1049.58,537.04 1053.10,542.33 1056.62,542.33C1060.13,542.33 1063.55,537.90 1067.17,537.04C1070.60,536.23 1074.21,537.04 1077.72,537.04C1081.24,537.04 1084.76,537.04 1088.28,537.04C1091.80,537.04 1095.41,536.23 1098.84,537.04C1102.46,537.90 1105.77,541.47 1109.39,542.33C1112.82,543.14 1116.52,543.14 1119.94,542.33C1123.57,541.47 1126.88,537.90 1130.50,537.04C1133.93,536.23 1137.54,537.04 1141.06,537.04C1144.57,537.04 1148.18,536.23 1151.61,537.04C1155.23,537.90 1158.65,540.57 1162.16,542.33C1165.68,544.09 1169.10,546.76 1172.72,547.62C1176.15,548.43 1179.85,548.43 1183.27,547.62C1186.90,546.76 1190.21,543.19 1193.83,542.33C1197.26,541.52 1200.87,542.33 1204.38,542.33C1207.90,542.33 1211.42,542.33 1214.94,542.33C1218.46,542.33 1222.07,543.14 1225.49,542.33C1229.12,541.47 1232.43,537.90 1236.05,537.04C1239.48,536.23 1243.09,537.04 1246.61,537.04C1250.12,537.04 1253.64,537.04 1257.16,537.04C1260.68,537.04 1264.29,537.85 1267.71,537.04C1271.34,536.18 1274.65,532.60 1278.27,531.75C1281.70,530.94 1285.31,531.75 1288.83,531.75C1292.34,531.75 1296.12,533.10 1299.38,531.75C1303.26,530.14 1306.05,522.77 1309.93,521.16C1313.20,519.81 1316.97,521.16 1320.49,521.16C1324.01,521.16 1327.53,521.16 1331.05,521.16C1334.56,521.16 1338.08,521.16 1341.60,521.16C1345.12,521.16 1348.64,521.16 1352.15,521.16C1355.67,521.16 1359.28,520.35 1362.71,521.16C1366.33,522.02 1369.75,524.69 1373.26,526.45C1376.78,528.22 1380.20,530.89 1383.82,531.75C1387.25,532.56 1394.38,531.75 1394.38,531.75" fill="none" stroke="#e8e8e8" stroke-width="3.2" stroke-linecap="round" stroke-linejoin="round"/>
<path d="M75.00,547.62C75.00,547.62 82.04,547.62 85.56,547.62C89.07,547.62 92.85,548.98 96.11,547.62C99.99,546.01 102.78,538.65 106.66,537.04C109.93,535.68 113.70,537.04 117.22,537.04C120.74,537.04 124.51,535.68 127.78,537.04C131.66,538.65 134.58,544.91 138.33,547.62C141.66,550.03 145.26,552.06 148.88,552.91C152.31,553.72 155.92,552.91 159.44,552.91C162.96,552.91 166.57,552.10 170.00,552.91C173.62,553.77 176.93,557.35 180.55,558.21C183.98,559.02 187.68,559.02 191.10,558.21C194.73,557.35 198.33,555.32 201.66,552.91C205.41,550.20 208.46,545.04 212.22,542.33C215.55,539.92 219.15,537.90 222.77,537.04C226.20,536.23 229.90,536.23 233.32,537.04C236.95,537.90 240.36,542.33 243.88,542.33C247.40,542.33 250.81,537.90 254.44,537.04C257.86,536.23 261.47,537.04 264.99,537.04C268.51,537.04 272.28,535.68 275.54,537.04C279.43,538.65 282.35,544.91 286.10,547.62C289.43,550.03 293.14,551.15 296.65,552.91C300.17,554.68 303.69,558.21 307.21,558.21C310.73,558.21 314.14,553.77 317.76,552.91C321.19,552.10 324.89,552.10 328.32,552.91C331.94,553.77 335.36,556.44 338.88,558.21C342.39,559.97 345.81,562.64 349.43,563.50C352.86,564.31 356.56,562.69 359.99,563.50C363.61,564.36 366.92,567.93 370.54,568.79C373.97,569.60 377.58,568.79 381.09,568.79C384.61,568.79 388.22,569.60 391.65,568.79C395.27,567.93 398.69,565.26 402.20,563.50C405.72,561.73 409.14,559.06 412.76,558.21C416.19,557.40 419.89,559.02 423.31,558.21C426.94,557.35 430.54,555.32 433.87,552.91C437.62,550.20 440.67,545.04 444.43,542.33C447.76,539.92 451.46,537.04 454.98,537.04C458.50,537.04 462.02,542.33 465.53,542.33C469.05,542.33 472.57,537.04 476.09,537.04C479.61,537.04 483.13,540.57 486.64,542.33C490.16,544.09 493.68,545.86 497.20,547.62C500.72,549.39 504.42,550.50 507.75,552.91C511.51,555.62 514.43,561.89 518.31,563.50C521.57,564.85 525.35,563.50 528.87,563.50C532.38,563.50 535.90,563.50 539.42,563.50C542.94,563.50 546.46,563.50 549.97,563.50C553.49,563.50 557.01,563.50 560.53,563.50C564.05,563.50 567.57,563.50 571.09,563.50C574.60,563.50 578.12,563.50 581.64,563.50C585.16,563.50 588.68,563.50 592.19,563.50C595.71,563.50 599.23,563.50 602.75,563.50C606.27,563.50 609.79,563.50 613.30,563.50C616.82,563.50 620.34,563.50 623.86,563.50C627.38,563.50 630.90,563.50 634.41,563.50C637.93,563.50 641.45,563.50 644.97,563.50C648.49,563.50 652.01,563.50 655.52,563.50C659.04,563.50 662.56,563.50 666.08,563.50C669.60,563.50 673.21,562.69 676.63,563.50C680.26,564.36 683.57,567.93 687.19,568.79C690.62,569.60 694.32,569.60 697.75,568.79C701.37,567.93 704.78,565.26 708.30,563.50C711.82,561.73 715.23,559.06 718.86,558.21C722.28,557.40 725.89,558.21 729.41,558.21C732.93,558.21 736.45,558.21 739.97,558.21C743.48,558.21 747.00,558.21 750.52,558.21C754.04,558.21 757.56,558.21 761.07,558.21C764.59,558.21 768.11,558.21 771.63,558.21C775.15,558.21 778.92,559.56 782.18,558.21C786.07,556.60 788.86,549.23 792.74,547.62C796.00,546.27 799.78,547.62 803.29,547.62C806.81,547.62 810.33,547.62 813.85,547.62C817.37,547.62 820.89,547.62 824.40,547.62C827.92,547.62 831.44,547.62 834.96,547.62C838.48,547.62 842.00,547.62 845.51,547.62C849.03,547.62 852.55,547.62 856.07,547.62C859.59,547.62 863.20,548.43 866.62,547.62C870.25,546.76 873.66,544.09 877.18,542.33C880.70,540.57 884.11,537.90 887.74,537.04C891.16,536.23 895.03,538.39 898.29,537.04C902.17,535.43 905.09,529.16 908.85,526.45C912.18,524.04 915.88,522.93 919.40,521.16C922.92,519.40 926.33,516.73 929.95,515.87C933.38,515.06 937.08,515.06 940.51,515.87C944.13,516.73 947.55,521.16 951.06,521.16C954.58,521.16 958.10,515.87 961.62,515.87C965.14,515.87 968.66,519.40 972.17,521.16C975.69,522.93 979.21,524.69 982.73,526.45C986.25,528.22 989.77,529.98 993.28,531.75C996.80,533.51 1000.22,536.18 1003.84,537.04C1007.27,537.85 1010.97,536.23 1014.39,537.04C1018.02,537.90 1021.33,541.47 1024.95,542.33C1028.38,543.14 1032.08,541.52 1035.51,542.33C1039.13,543.19 1042.54,545.86 1046.06,547.62C1049.58,549.39 1052.99,552.06 1056.62,552.91C1060.04,553.72 1063.65,552.91 1067.17,552.91C1070.69,552.91 1074.30,553.72 1077.72,552.91C1081.35,552.06 1084.76,549.39 1088.28,547.62C1091.80,545.86 1095.21,543.19 1098.84,542.33C1102.26,541.52 1105.96,541.52 1109.39,542.33C1113.01,543.19 1116.43,547.62 1119.94,547.62C1123.46,547.62 1126.98,542.33 1130.50,542.33C1134.02,542.33 1137.43,546.76 1141.06,547.62C1144.48,548.43 1148.18,546.81 1151.61,547.62C1155.23,548.48 1158.54,552.06 1162.16,552.91C1165.59,553.72 1169.20,552.91 1172.72,552.91C1176.24,552.91 1179.76,552.91 1183.27,552.91C1186.79,552.91 1190.31,552.91 1193.83,552.91C1197.35,552.91 1200.87,552.91 1204.38,552.91C1207.90,552.91 1211.42,552.91 1214.94,552.91C1218.46,552.91 1221.98,552.91 1225.49,552.91C1229.01,552.91 1232.53,552.91 1236.05,552.91C1239.57,552.91 1243.09,552.91 1246.61,552.91C1250.12,552.91 1253.64,552.91 1257.16,552.91C1260.68,552.91 1264.29,553.72 1267.71,552.91C1271.34,552.06 1274.65,548.48 1278.27,547.62C1281.70,546.81 1285.31,547.62 1288.83,547.62C1292.34,547.62 1295.86,547.62 1299.38,547.62C1302.90,547.62 1306.42,547.62 1309.93,547.62C1313.45,547.62 1317.06,548.43 1320.49,547.62C1324.11,546.76 1327.42,543.19 1331.05,542.33C1334.47,541.52 1338.17,541.52 1341.60,542.33C1345.22,543.19 1348.53,546.76 1352.15,547.62C1355.58,548.43 1359.28,548.43 1362.71,547.62C1366.33,546.76 1369.64,543.19 1373.26,542.33C1376.69,541.52 1380.39,543.14 1383.82,542.33C1387.44,541.47 1394.38,537.04 1394.38,537.04" fill="none" stroke="#e8e8e8" stroke-width="3.2" stroke-linecap="round" stroke-linejoin="round"/>
<path d="M75.00,563.50C75.00,563.50 82.04,563.50 85.56,563.50C89.07,563.50 92.59,563.50 96.11,563.50C99.63,563.50 103.15,563.50 106.66,563.50C110.18,563.50 113.70,563.50 117.22,563.50C120.74,563.50 124.26,563.50 127.78,563.50C131.29,563.50 134.81,563.50 138.33,563.50C141.85,563.50 145.37,563.50 148.88,563.50C152.40,563.50 155.92,563.50 159.44,563.50C162.96,563.50 166.57,562.69 170.00,563.50C173.62,564.36 176.93,567.93 180.55,568.79C183.98,569.60 187.59,568.79 191.10,568.79C194.62,568.79 198.14,568.79 201.66,568.79C205.18,568.79 208.79,569.60 212.22,568.79C215.84,567.93 219.25,565.26 222.77,563.50C226.29,561.73 229.99,560.62 233.32,558.21C237.08,555.50 240.00,549.23 243.88,547.62C247.14,546.27 250.92,547.62 254.44,547.62C257.95,547.62 261.47,547.62 264.99,547.62C268.51,547.62 272.12,548.43 275.54,547.62C279.17,546.76 282.58,542.33 286.10,542.33C289.62,542.33 293.14,545.86 296.65,547.62C300.17,549.39 303.69,551.15 307.21,552.91C310.73,554.68 314.25,556.44 317.76,558.21C321.28,559.97 324.70,562.64 328.32,563.50C331.75,564.31 335.36,563.50 338.88,563.50C342.39,563.50 345.91,563.50 349.43,563.50C352.95,563.50 356.47,563.50 359.99,563.50C363.50,563.50 367.02,563.50 370.54,563.50C374.06,563.50 377.67,564.31 381.09,563.50C384.72,562.64 388.03,559.06 391.65,558.21C395.08,557.40 398.69,558.21 402.20,558.21C405.72,558.21 409.24,558.21 412.76,558.21C416.28,558.21 419.89,559.02 423.31,558.21C426.94,557.35 430.25,553.77 433.87,552.91C437.30,552.10 440.91,552.91 444.43,552.91C447.94,552.91 451.46,552.91 454.98,552.91C458.50,552.91 462.11,553.72 465.53,552.91C469.16,552.06 472.47,548.48 476.09,547.62C479.52,546.81 483.22,548.43 486.64,547.62C490.27,546.76 493.58,543.19 497.20,542.33C500.63,541.52 504.24,542.33 507.75,542.33C511.27,542.33 514.79,542.33 518.31,542.33C521.83,542.33 525.35,542.33 528.87,542.33C532.38,542.33 535.90,542.33 539.42,542.33C542.94,542.33 546.46,542.33 549.97,542.33C553.49,542.33 557.10,541.52 560.53,542.33C564.15,543.19 567.57,545.86 571.09,547.62C574.60,549.39 578.02,552.06 581.64,552.91C585.07,553.72 588.68,552.91 592.19,552.91C595.71,552.91 599.23,552.91 602.75,552.91C606.27,552.91 609.79,552.91 613.30,552.91C616.82,552.91 620.34,552.91 623.86,552.91C627.38,552.91 630.90,552.91 634.41,552.91C637.93,552.91 641.54,553.72 644.97,552.91C648.59,552.06 651.90,548.48 655.52,547.62C658.95,546.81 662.65,548.43 666.08,547.62C669.70,546.76 673.01,543.19 676.63,542.33C680.06,541.52 683.76,543.14 687.19,542.33C690.81,541.47 694.12,537.90 697.75,537.04C701.17,536.23 704.78,537.04 708.30,537.04C711.82,537.04 715.43,537.85 718.86,537.04C722.48,536.18 725.89,533.51 729.41,531.75C732.93,529.98 736.45,526.45 739.97,526.45C743.48,526.45 746.90,530.89 750.52,531.75C753.95,532.56 757.65,530.94 761.07,531.75C764.70,532.60 768.11,535.27 771.63,537.04C775.15,538.80 778.56,541.47 782.18,542.33C785.61,543.14 789.31,541.52 792.74,542.33C796.36,543.19 799.78,547.62 803.29,547.62C806.81,547.62 810.23,543.19 813.85,542.33C817.28,541.52 820.89,542.33 824.40,542.33C827.92,542.33 831.53,543.14 834.96,542.33C838.58,541.47 841.89,537.90 845.51,537.04C848.94,536.23 852.81,535.68 856.07,537.04C859.95,538.65 862.74,546.01 866.62,547.62C869.89,548.98 873.75,546.81 877.18,547.62C880.80,548.48 884.22,552.91 887.74,552.91C891.25,552.91 894.67,548.48 898.29,547.62C901.72,546.81 905.42,546.81 908.85,547.62C912.47,548.48 915.78,552.06 919.40,552.91C922.83,553.72 926.53,552.10 929.95,552.91C933.58,553.77 936.89,557.35 940.51,558.21C943.94,559.02 947.55,558.21 951.06,558.21C954.58,558.21 958.10,558.21 961.62,558.21C965.14,558.21 968.66,558.21 972.17,558.21C975.69,558.21 979.21,558.21 982.73,558.21C986.25,558.21 989.77,558.21 993.28,558.21C996.80,558.21 1000.32,558.21 1003.84,558.21C1007.36,558.21 1010.88,558.21 1014.39,558.21C1017.91,558.21 1021.43,558.21 1024.95,558.21C1028.47,558.21 1031.99,558.21 1035.51,558.21C1039.02,558.21 1042.54,558.21 1046.06,558.21C1049.58,558.21 1053.19,557.40 1056.62,558.21C1060.24,559.06 1063.55,562.64 1067.17,563.50C1070.60,564.31 1074.30,564.31 1077.72,563.50C1081.35,562.64 1084.66,559.06 1088.28,558.21C1091.71,557.40 1095.41,557.40 1098.84,558.21C1102.46,559.06 1105.77,562.64 1109.39,563.50C1112.82,564.31 1116.52,564.31 1119.94,563.50C1123.57,562.64 1126.88,559.06 1130.50,558.21C1133.93,557.40 1137.54,558.21 1141.06,558.21C1144.57,558.21 1148.09,558.21 1151.61,558.21C1155.13,558.21 1158.65,558.21 1162.16,558.21C1165.68,558.21 1169.20,558.21 1172.72,558.21C1176.24,558.21 1179.76,558.21 1183.27,558.21C1186.79,558.21 1190.31,558.21 1193.83,558.21C1197.35,558.21 1200.87,558.21 1204.38,558.21C1207.90,558.21 1211.42,558.21 1214.94,558.21C1218.46,558.21 1221.98,558.21 1225.49,558.21C1229.01,558.21 1232.53,558.21 1236.05,558.21C1239.57,558.21 1243.18,557.40 1246.61,558.21C1250.23,559.06 1253.54,562.64 1257.16,563.50C1260.59,564.31 1264.20,563.50 1267.71,563.50C1271.23,563.50 1274.84,564.31 1278.27,563.50C1281.89,562.64 1285.20,559.06 1288.83,558.21C1292.25,557.40 1295.86,558.21 1299.38,558.21C1302.90,558.21 1306.42,558.21 1309.93,558.21C1313.45,558.21 1316.97,558.21 1320.49,558.21C1324.01,558.21 1327.53,558.21 1331.05,558.21C1334.56,558.21 1338.08,558.21 1341.60,558.21C1345.12,558.21 1348.64,558.21 1352.15,558.21C1355.67,558.21 1359.19,558.21 1362.71,558.21C1366.23,558.21 1369.75,558.21 1373.26,558.21C1376.78,558.21 1380.30,558.21 1383.82,558.21C1387.34,558.21 1394.38,558.21 1394.38,558.21" fill="none" stroke="#e8e8e8" stroke-width="3.2" stroke-linecap="round" stroke-linejoin="round"/>
<line x1="687.0" y1="143.5" x2="687.0" y2="594" stroke="#d3d8e2" stroke-width="2" stroke-dasharray="6.1,2.53" stroke-dashoffset="2.83"/>
<line x1="740.0" y1="63" x2="740.0" y2="594" stroke="#d3d8e2" stroke-width="2" stroke-dasharray="6.1,2.53"/>
<text x="886" y="21.5" text-anchor="middle" font-size="22.3" fill="#adabba" stroke="#adabba" stroke-width="0.4" textLength="238.5" lengthAdjust="spacing">President Trump issues</text>
<text x="886.5" y="48.7" text-anchor="middle" font-size="22.3" fill="#adabba" stroke="#adabba" stroke-width="0.4" textLength="316.5" lengthAdjust="spacing">guidelines for social distancing</text>
<text x="596" y="103.5" text-anchor="middle" font-size="22.3" fill="#adabba" stroke="#adabba" stroke-width="0.4" textLength="241" lengthAdjust="spacing">WHO officially declares</text>
<text x="596" y="131.5" text-anchor="middle" font-size="22.3" fill="#adabba" stroke="#adabba" stroke-width="0.4" textLength="253" lengthAdjust="spacing">COVID-19 as a pandemic</text>
<text x="1405" y="197.2" font-size="22.5" fill="#e8e8e8" stroke="#e8e8e8" stroke-width="0.5" textLength="98.5" lengthAdjust="spacing">Gratitude</text>
<text x="1405" y="264.0" font-size="22.5" fill="#e0c8f5" stroke="#e0c8f5" stroke-width="0.5" textLength="94" lengthAdjust="spacing">Boredom</text>
<text x="1405" y="453.7" font-size="22.5" fill="#e8e8e8" stroke="#e8e8e8" stroke-width="0.5" textLength="43.5" lengthAdjust="spacing">Fear</text>
<text x="1405" y="472.0" font-size="22.5" fill="#bfe993" stroke="#bfe993" stroke-width="0.5" textLength="122" lengthAdjust="spacing">Acceptance</text>
<text x="1405" y="518.0" font-size="22.5" fill="#e8e8e8" stroke="#e8e8e8" stroke-width="0.5" textLength="79.5" lengthAdjust="spacing">Caution</text>
<text x="1405" y="535.6" font-size="22.5" fill="#e8e8e8" stroke="#e8e8e8" stroke-width="0.5" textLength="59" lengthAdjust="spacing">Anger</text>
<text x="1405" y="558.0" font-size="22.5" fill="#e8e8e8" stroke="#e8e8e8" stroke-width="0.5" textLength="82.5" lengthAdjust="spacing">Sadness</text>
<text x="1405" y="574.5" font-size="22.5" fill="#e8e8e8" stroke="#e8e8e8" stroke-width="0.5" textLength="34.5" lengthAdjust="spacing">Joy</text>
</svg></body></html>
